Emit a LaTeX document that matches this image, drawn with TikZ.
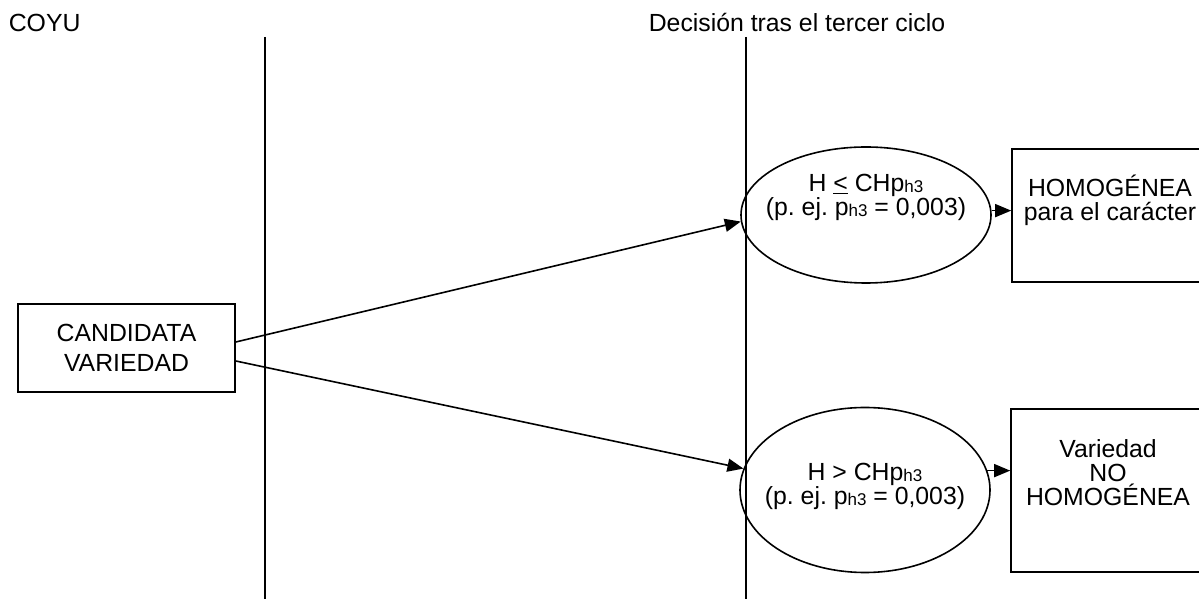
\documentclass[tikz,border=0pt]{standalone}
\usepackage{fontspec}
\setmainfont{Liberation Sans}
\usetikzlibrary{shapes.geometric,arrows.meta}
\frenchspacing

\newcommand{\phtres}{p\raisebox{-0.8pt}{\fontsize{8.5}{8}\selectfont h3}}

\begin{document}
\begin{tikzpicture}[x=0.5pt, y=0.5pt, line width=0.8pt,
    every node/.style={font=\fontsize{12.4}{12}\selectfont},
    caja/.style={draw, rectangle, inner sep=0pt},
    elip/.style={draw, ellipse, inner sep=0pt, minimum width=125pt},
    flecha/.style={-{Triangle[length=8pt,width=6.5pt]}}]{

    \useasboundingbox (0,0) rectangle (1199,599);

    % cabeceras
    \node [anchor=base west, inner sep=0pt] (coyu) at (8,567) {COYU};
    \node [anchor=base west, inner sep=0pt] (dec) at (648,567) {Decisión tras el tercer ciclo};

    % lineas verticales
    \coordinate (l1a) at (265,562);
    \coordinate (l1b) at (265,0);
    \coordinate (l2a) at (746,562);
    \coordinate (l2b) at (746,0);
    \draw [line width=1pt] (l1a) -- (l1b);
    \draw [line width=1pt] (l2a) -- (l2b);

    \node [caja, minimum width=108.5pt, minimum height=44pt, align=center] (cand) at (126.5,251) {CANDIDATA\\[3pt]VARIEDAD};

    \node [elip, minimum height=68pt, label={[align=center, yshift=9pt]center:H \underline{<} CH\phtres\\(p. ej. \phtres{} = 0,003)}] (e1) at (866,384) {};
    \node [elip, minimum height=82.5pt, label={[align=center, yshift=2pt]center:H > CH\phtres\\(p. ej. \phtres{} = 0,003)}] (e2) at (865,109) {};

    \node [caja, minimum width=98pt, minimum height=66.5pt, label={[align=center, yshift=7.5pt]center:HOMOGÉNEA\\para el carácter}] (b1) at (1110,383.5) {};
    \node [caja, minimum width=97pt, minimum height=81.5pt, label={[align=center, yshift=9pt]center:Variedad\\NO\\HOMOGÉNEA}] (b2) at (1108,108.5) {};

    \coordinate (c1) at ([yshift=3pt]cand.east);
    \coordinate (c2) at ([yshift=-6.5pt]cand.east);
    \draw [flecha] (c1) -- (e1.183);
    \draw [flecha] (c2) -- (e2.170);
    \draw [flecha] (e1.2) -- (e1.2 -| b1.west);
    \draw [flecha] (e2.9) -- (e2.9 -| b2.west);
    }
\end{tikzpicture}
\end{document}
